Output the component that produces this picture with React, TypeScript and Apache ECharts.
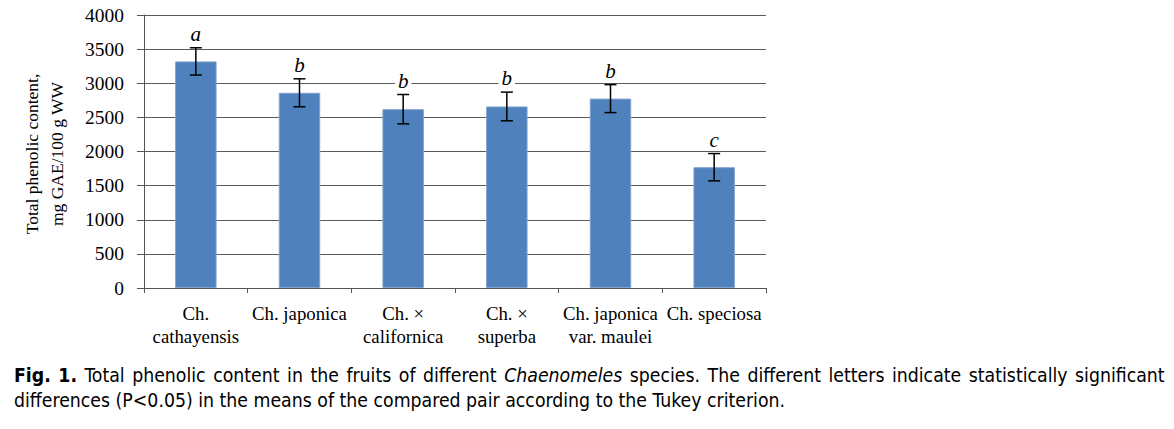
import React, { useEffect, useRef } from "react";
import * as echarts from "echarts";

const categories = [
  "Ch.\ncathayensis",
  "Ch. japonica",
  "Ch. ×\ncalifornica",
  "Ch. ×\nsuperba",
  "Ch. japonica\nvar. maulei",
  "Ch. speciosa",
];
const values = [3320, 2860, 2620, 2660, 2775, 1770];
const errors = [200, 205, 215, 210, 205, 200];
const letters = ["a", "b", "b", "b", "b", "c"];
const yTicks = { min: 0, max: 4000, interval: 500 };

const SERIF = "'Liberation Serif', 'Times New Roman', serif";
const SANS = "'DejaVu Sans Condensed', 'DejaVu Sans', sans-serif";
const CAP = 19.3;

export default function App() {
  const ref = useRef<HTMLDivElement>(null);
  useEffect(() => {
    document.body.style.margin = "0";
    const chart = echarts.init(ref.current!, null, { renderer: "svg" });
    const errData = values.map((v, i) => [i, v, errors[i]]);
    const words1 = "Total phenolic content in the fruits of different".split(" ");
    const words2 = "species. The different letters indicate statistically significant".split(" ");
    const line1 =
      "{b|Fig.}{s| }{b|1.}{s| }" +
      words1.join("{s| }") +
      "{s| }{i|Chaenomeles}{s| }" +
      words2.join("{s| }");
    chart.setOption({
      animation: false,
      backgroundColor: "#fff",
      grid: { left: 144, right: 408, top: 15, bottom: 141, containLabel: false },
      xAxis: {
        type: "category",
        data: categories,
        boundaryGap: true,
        axisLine: { lineStyle: { color: "#555", width: 1 } },
        axisTick: { show: true, length: 5, alignWithLabel: false, lineStyle: { color: "#555" } },
        axisLabel: {
          interval: 0,
          margin: 14,
          fontFamily: SERIF,
          fontSize: 18.8,
          lineHeight: 23,
          color: "#000",
        },
      },
      yAxis: {
        type: "value",
        min: yTicks.min,
        max: yTicks.max,
        interval: yTicks.interval,
        axisLine: { show: true, lineStyle: { color: "#555", width: 1 } },
        axisTick: { show: true, length: 7, lineStyle: { color: "#555" } },
        axisLabel: {
          margin: 20,
          fontFamily: SERIF,
          fontSize: 19.5,
          color: "#000",
          formatter: (v: number) => String(v),
        },
        splitLine: { show: true, lineStyle: { color: "#5a5a5a", width: 1 } },
      },
      series: [
        {
          type: "bar",
          data: values,
          barCategoryGap: "60%",
          itemStyle: { color: "#4F81BD", borderColor: "#7fa2d0", borderWidth: 1 },
          z: 2,
        },
        {
          type: "custom",
          data: errData,
          z: 5,
          renderItem: (params: any, api: any) => {
            const i = api.value(0);
            const v = api.value(1);
            const e = api.value(2);
            const top = api.coord([i, v + e]);
            const bot = api.coord([i, v - e]);
            const half = 6;
            const ls = { stroke: "#000", lineWidth: 1.5 };
            return {
              type: "group",
              children: [
                { type: "line", shape: { x1: top[0], y1: top[1], x2: bot[0], y2: bot[1] }, style: ls },
                { type: "line", shape: { x1: top[0] - half, y1: top[1], x2: top[0] + half, y2: top[1] }, style: ls },
                { type: "line", shape: { x1: bot[0] - half, y1: bot[1], x2: bot[0] + half, y2: bot[1] }, style: ls },
                {
                  type: "text",
                  x: top[0],
                  y: top[1] - 14,
                  style: {
                    text: letters[params.dataIndex],
                    fontFamily: SERIF,
                    fontStyle: "italic",
                    fontSize: 21,
                    fill: "#000",
                    align: "center",
                    verticalAlign: "middle",
                    backgroundColor: "#fff",
                    padding: [0, 3],
                  },
                },
              ],
            };
          },
        },
      ],
      graphic: [
        {
          type: "text",
          x: 44.5,
          y: 154,
          rotation: Math.PI / 2,
          style: {
            text: "Total phenolic content,\nmg GAE/100 g WW",
            fontFamily: SERIF,
            fontSize: 17.5,
            lineHeight: 25,
            fill: "#000",
            align: "center",
            verticalAlign: "middle",
          },
        },
        {
          type: "text",
          left: 14,
          top: 362,
          style: {
            text: line1,
            fontFamily: SANS,
            fontSize: CAP,
            fill: "#000",
            rich: {
              b: { fontFamily: SANS, fontSize: CAP, fontWeight: "bold", fill: "#000" },
              i: { fontFamily: SANS, fontSize: CAP, fontStyle: "italic", fill: "#000" },
              s: { fontFamily: SANS, fontSize: CAP + 7, fill: "#000" },
            },
          },
        },
        {
          type: "text",
          left: 14,
          top: 391,
          style: {
            text: "differences (P<0.05) in the means of the compared pair according to the Tukey criterion.",
            fontFamily: SANS,
            fontSize: CAP,
            fill: "#000",
          },
        },
      ],
    });
    return () => chart.dispose();
  }, []);
  return <div ref={ref} style={{ width: 1174, height: 429 }} />;
}
